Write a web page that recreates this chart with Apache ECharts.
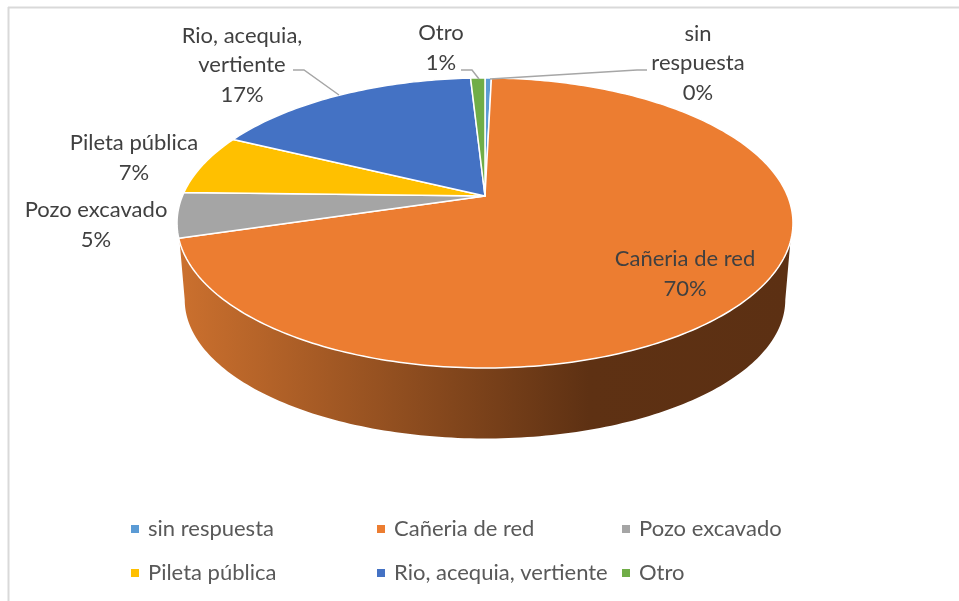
<!DOCTYPE html>
<html>
<head>
<meta charset="utf-8">
<style>
  html, body { margin: 0; padding: 0; background: #fff; }
  #main { width: 959px; height: 601px; }
</style>
<script src="https://cdn.jsdelivr.net/npm/echarts@6/dist/echarts.min.js"></script>
</head>
<body>
<div id="main"></div>
<script>
// datos (%), en sentido horario desde arriba
var categories = ['sin respuesta', 'Cañeria de red', 'Pozo excavado', 'Pileta pública', 'Rio, acequia, vertiente', 'Otro'];
var values = [0.4, 70, 5, 6.8, 16.9, 0.9];
var labelLines = [['sin', 'respuesta'], ['Cañeria de red'], ['Pozo excavado'], ['Pileta pública'], ['Rio, acequia,', 'vertiente'], ['Otro']];
var colors = ['#5B9BD5', '#EC7D31', '#A5A5A5', '#FFC000', '#4472C4', '#70AD47'];

// geometria de la torta en perspectiva
var apexX = 485, apexY = 196, radX = 302.6, radY = 140, persp = 0.186;
var wallFrom = 108, wallTo = 252;   // parte visible del lateral (grados)
var font = 'Lato';

// centro del rotulo y linea guia de cada categoria
var labelPos = [[698, 63], [685, 274], [96, 225], [134, 158], [242, 65], [441, 48]];
var leaders = [
  [[647, 70], [637, 70], [490, 79]],
  null, null, null,
  [[293, 70], [304, 70], [339, 95]],
  [[461, 70], [472, 70], [479, 79]]
];

var total = values.reduce(function (a, b) { return a + b; }, 0);

function rim(deg) {
  var t = deg * Math.PI / 180;
  var w = 1 + persp * Math.cos(t);
  return [apexX + radX * Math.sin(t) / w, apexY - radY * Math.cos(t) / w];
}
// borde inferior: mismo contorno, mas abajo y un poco mas chico
function lowerRim(deg) {
  var p = rim(deg);
  return [485 + (p[0] - 485) * 0.975, 300 + (p[1] - 223) * 0.955];
}
function arc(fn, a, b) {
  var pts = [], step = a < b ? 1 : -1;
  for (var d = a; step > 0 ? d < b : d > b; d += step) pts.push(fn(d));
  pts.push(fn(b));
  return pts;
}

function renderSlice(params, api) {
  var i = params.seriesIndex;
  var before = 0;
  for (var k = 0; k < i; k++) before += values[k];
  var a0 = before / total * 360;
  var a1 = (before + api.value(0)) / total * 360;
  var children = [];

  // lateral
  var wa = Math.max(a0, wallFrom), wb = Math.min(a1, wallTo);
  if (wb > wa) {
    var side = arc(rim, wa, wb).concat(arc(lowerRim, 259.3, 100.7));
    children.push({
      type: 'polygon',
      shape: { points: side },
      style: {
        fill: {
          type: 'linear', x: 0, y: 0, x2: 1, y2: 0,
          colorStops: [
            { offset: 0, color: '#CB702E' },
            { offset: 0.67, color: '#5E3113' },
            { offset: 1, color: '#5C3013' }
          ]
        }
      },
      z2: 1
    });
  }
  // tapa
  children.push({
    type: 'polygon',
    shape: { points: [[apexX, apexY]].concat(arc(rim, a0, a1)) },
    style: { fill: colors[i], stroke: '#fff', lineWidth: 1.5, lineJoin: 'round' },
    z2: 2
  });
  if (leaders[i]) {
    children.push({
      type: 'polyline',
      shape: { points: leaders[i] },
      style: { fill: null, stroke: '#A6A6A6', lineWidth: 1.5 },
      z2: 3
    });
  }
  children.push({
    type: 'text',
    style: {
      text: labelLines[i].concat(Math.round(api.value(0)) + '%').join('\n'),
      x: labelPos[i][0], y: labelPos[i][1],
      align: 'center', verticalAlign: 'middle',
      fontFamily: font, fontSize: 22, lineHeight: 29.5, fill: '#404040'
    },
    z2: 4
  });
  return { type: 'group', children: children };
}

function legendCol(left, names) {
  return {
    left: left, top: 518, orient: 'vertical', padding: 0,
    itemWidth: 8, itemHeight: 8, itemGap: 22, icon: 'rect',
    data: names, selectedMode: false,
    textStyle: { fontFamily: font, fontSize: 22, color: '#595959', padding: [0, 0, 0, 4], lineHeight: 22 }
  };
}

var myChart = echarts.init(document.getElementById('main'));
myChart.setOption({
  animation: false,
  graphic: [
    { type: 'line', shape: { x1: 8, y1: 7.5, x2: 959, y2: 7.5 }, style: { stroke: '#D9D9D9', lineWidth: 2 } },
    { type: 'line', shape: { x1: 8.5, y1: 7, x2: 8.5, y2: 601 }, style: { stroke: '#D9D9D9', lineWidth: 2 } }
  ],
  legend: [
    legendCol(131, [categories[0], categories[3]]),
    legendCol(377, [categories[1], categories[4]]),
    legendCol(622, [categories[2], categories[5]])
  ],
  series: categories.map(function (name, i) {
    return {
      type: 'custom',
      name: name,
      coordinateSystem: 'none',
      itemStyle: { color: colors[i] },
      silent: true,
      data: [values[i]],
      renderItem: renderSlice
    };
  })
});
</script>
</body>
</html>
